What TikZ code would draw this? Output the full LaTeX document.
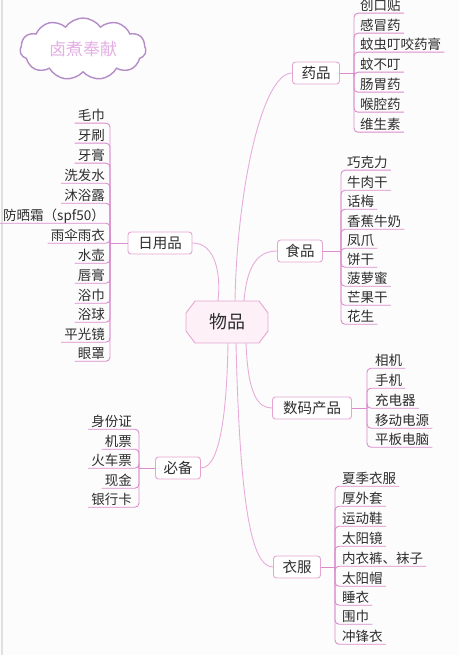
\documentclass[tikz,border=0pt]{standalone}
\usepackage{fontspec}
\newfontfamily\cjk{Noto Sans CJK SC}
\usetikzlibrary{shapes.symbols}
\definecolor{connc}{RGB}{232,172,220}
\definecolor{ulc}{RGB}{218,140,205}
\definecolor{boxc}{RGB}{228,165,212}
\definecolor{txt}{RGB}{45,45,45}
\definecolor{cloudc}{RGB}{180,140,200}
\definecolor{cloudt}{RGB}{228,175,228}
\definecolor{cfill}{RGB}{253,241,247}
\definecolor{bg}{RGB}{253,252,252}
\tikzset{
  leaf/.style={font=\cjk\fontsize{13.5}{14}\selectfont, text=txt, inner xsep=1pt, inner ysep=0pt, text height=13.1pt, text depth=2.9pt},
  ul/.style={draw=ulc, line width=0.9pt, rounded corners=4pt},
  conn/.style={draw=connc, line width=0.9pt},
  branch/.style={draw=boxc, line width=0.9pt, rounded corners=3pt, fill=white, font=\cjk\fontsize{14.5}{15}\selectfont, text=txt, inner sep=0pt, minimum height=22pt},
  hub/.style={font=\cjk\fontsize{18}{19}\selectfont, text=txt, inner sep=0pt, minimum width=82pt, minimum height=42pt},
}
\newcommand\leafsR[3]{%
  \foreach \yy/\lbl [count=\i] in {#3} {
    \node[leaf, anchor=west] (#1\i) at (#2,\yy) {\lbl};
    \draw[ul] (#1br) |- ([xshift=2pt]#1\i.south east);
  }}
\newcommand\leafsL[3]{%
  \foreach \yy/\lbl [count=\i] in {#3} {
    \node[leaf, anchor=east] (#1\i) at (#2,\yy) {\lbl};
    \draw[ul] (#1br) |- ([xshift=-2pt]#1\i.south west);
  }}
\begin{document}
\begin{tikzpicture}[x=1pt,y=-1pt]
\fill[bg] (0,0) rectangle (459,655);
\useasboundingbox (0,0) rectangle (459,655);
\draw[black!12, line width=1.5pt] (2,0) -- (2,655);

% cloud
\node[cloud, cloud puffs=11, cloud puff arc=110, aspect=2.1, draw=cloudc, line width=1.4pt, fill=white,
      minimum width=126pt, minimum height=62pt, inner sep=0pt,
      font=\cjk\fontsize{17}{18}\selectfont, text=cloudt] (cl) at (83,49) {卤煮奉献};

% hub
\fill[cfill] (195,301) -- (259,301) -- (268,313) -- (268,331) -- (259,343) -- (195,343) -- (186,331) -- (186,313) -- cycle;
\draw[boxc, line width=0.9pt] (195,301) -- (259,301) -- (268,313) -- (268,331) -- (259,343) -- (195,343) -- (186,331) -- (186,313) -- cycle;
\node[hub] (c) at (227,322) {物品};

% branches
\node[branch, minimum width=47pt] (yp) at (316,73) {药品};
\node[branch, minimum width=45pt] (sp) at (300,251) {食品};
\node[branch, minimum width=64pt] (ry) at (160,243) {日用品};
\node[branch, minimum width=79pt] (sm) at (312,408) {数码产品};
\node[branch, minimum width=47pt] (yf) at (297,567) {衣服};
\node[branch, minimum width=45pt] (bb) at (178,468) {必备};

% connectors hub-branch
\draw[conn] ([xshift=8pt]c.north) .. controls (237,190) and (262,73) .. (yp.west);
\draw[conn] ([xshift=17pt]c.north) .. controls (247,265) and (258,251) .. (sp.west);
\draw[conn] (ry.east) .. controls (216,243) and (221,275) .. ([xshift=-9pt]c.north);
\draw[conn] ([xshift=19pt]c.south) .. controls (248,395) and (258,408) .. (sm.west);
\draw[conn] ([xshift=9pt]c.south) .. controls (240,510) and (252,567) .. (yf.west);
\draw[conn] (bb.east) .. controls (222,468) and (227,400) .. ([xshift=1pt]c.south);

% bracket points
\coordinate (ypbr) at (354,73);
\coordinate (spbr) at (341,251);
\coordinate (rybr) at (110,243);
\coordinate (smbr) at (367,408);
\coordinate (yfbr) at (335,567);
\coordinate (bbbr) at (139,468);
\draw[ul] (yp.east) -- (ypbr);
\draw[ul] (sp.east) -- (spbr);
\draw[ul] (ry.west) -- (rybr);
\draw[ul] (sm.east) -- (smbr);
\draw[ul] (yf.east) -- (yfbr);
\draw[ul] (bb.west) -- (bbbr);

% leaves
\leafsR{yp}{359}{5/创口贴,25/感冒药,44/蚊虫叮咬药膏,64/蚊不叮,84/肠胃药,104/喉腔药,124/维生素}
\leafsR{sp}{346}{162/巧克力,182/牛肉干,201/话梅,221/香蕉牛奶,240/凤爪,259/饼干,278/菠萝蜜,297/芒果干,316/花生}
\leafsL{ry}{106}{115/毛巾,135/牙刷,155/牙膏,175/洗发水,195/沐浴露,215/防晒霜（spf50）,235/雨伞雨衣,255/水壶,275/唇膏,295/浴巾,314/浴球,334/平光镜,353/眼罩}
\leafsR{sm}{374}{360/相机,380/手机,400/充电器,420/移动电源,439/平板电脑}
\leafsR{yf}{341}{478/夏季衣服,498/厚外套,518/运动鞋,538/太阳镜,558/内衣裤、袜子,578/太阳帽,597/睡衣,616/围巾,636/冲锋衣}
\leafsL{bb}{133}{421/身份证,441/机票,460/火车票,480/现金,499/银行卡}
\end{tikzpicture}
\end{document}
